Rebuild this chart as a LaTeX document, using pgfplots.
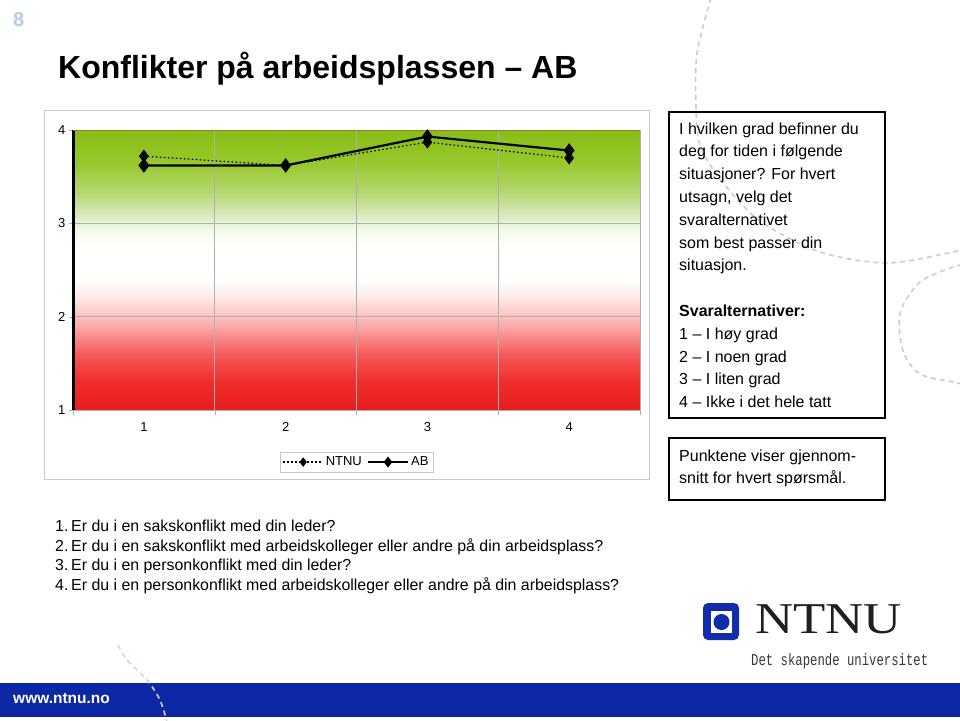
\documentclass[border=0pt]{standalone}
\usepackage{pgfplots}
\pgfplotsset{compat=1.18}
\usepackage{fontspec}
\setmainfont{Liberation Sans}
\newfontfamily\serifNT{Liberation Serif}
\newfontfamily\monoNT{Liberation Mono}

\definecolor{gridgray}{RGB}{175,175,175}
\definecolor{framegray}{RGB}{200,200,200}
\definecolor{dashgray}{RGB}{205,205,205}
\definecolor{ntnublue}{RGB}{18,45,170}
\definecolor{barblue}{RGB}{12,40,165}
\definecolor{pagenum}{RGB}{180,205,228}
\definecolor{topline}{RGB}{150,125,45}
\definecolor{cR0}{RGB}{232,28,28}
\definecolor{cR1}{RGB}{240,45,45}
\definecolor{cR2}{RGB}{245,90,90}
\definecolor{cR3}{RGB}{250,170,170}
\definecolor{cR4}{RGB}{255,232,232}
\definecolor{cW1}{RGB}{245,250,238}
\definecolor{cG1}{RGB}{215,233,185}
\definecolor{cG2}{RGB}{180,215,110}
\definecolor{cG3}{RGB}{152,200,45}
\definecolor{cG4}{RGB}{135,190,20}

% background of the plot: red (1) -> white (2.5) -> green (4)
\pgfdeclareverticalshading{chartbg}{100bp}{
  color(0bp)=(cR0); color(25bp)=(cR0); color(30bp)=(cR1); color(35bp)=(cR2);
  color(40bp)=(cR3); color(45bp)=(cR4); color(48.5bp)=(white); color(54bp)=(white);
  color(57bp)=(cW1); color(60bp)=(cG1); color(64bp)=(cG2); color(69bp)=(cG3);
  color(75bp)=(cG4); color(100bp)=(cG4)}

\begin{document}
\begin{tikzpicture}[x=1pt,y=-1pt]
\useasboundingbox (0,0) rectangle (960,720);
\fill[white] (0,0) rectangle (960,720);

% dashed decoration
\begin{scope}
\clip (0,0) rectangle (960,720);
\draw[dashgray, line width=1.6pt, dash pattern=on 5pt off 4pt]
  plot[smooth] coordinates {(711,-2) (697,53) (696,107) (700,145) (720,179) (760,221) (820,252) (887,263) (953,252) (962,249)};
\draw[dashgray, line width=1.6pt, dash pattern=on 5pt off 4pt]
  plot[smooth] coordinates {(962,265) (953,267) (920,282) (900,313) (903,351) (920,374) (953,382) (962,384)};
\end{scope}

% page number and title
\node[anchor=base west, inner sep=0, text=pagenum] at (13,27) {\fontsize{20}{20}\selectfont\bfseries 8};
\node[anchor=base west, inner sep=0] at (58,78) {\fontsize{32}{34}\selectfont\bfseries Konflikter på arbeidsplassen – AB};

% chart frame
\draw[framegray, line width=1pt] (44,110) rectangle (649,479);

\begin{axis}[
  at={(73pt,-410pt)}, anchor=south west,
  scale only axis, width=567pt, height=280pt,
  xmin=0.5, xmax=4.5, ymin=1, ymax=4,
  xtick={1,2,3,4}, minor xtick={0.5,1.5,2.5,3.5,4.5},
  ytick={1,2,3,4},
  xminorgrids, ymajorgrids,
  grid style={draw=gridgray, line width=0.6pt},
  axis x line*=bottom, axis y line*=left,
  x axis line style={draw=gridgray, line width=0.8pt},
  y axis line style={draw=black, line width=3pt},
  tick align=outside,
  major x tick style={draw=none},
  minor x tick style={draw=gridgray},
  y tick style={draw=gridgray},
  minor tick length=5pt, major tick length=4pt,
  tick label style={font=\fontsize{13}{15}\selectfont},
  /pgf/number format/assume math mode=true,
  xticklabel style={yshift=-5pt},
  axis background/.style={shade, shading=chartbg},
  legend style={at={(0.5,-0.186)}, anchor=center, legend columns=2,
    draw=framegray, fill=white, inner sep=2.5pt,
    font=\fontsize{13}{15}\selectfont,
    /tikz/every even column/.append style={column sep=3pt}},
  legend image code/.code={\draw[mark repeat=2, mark phase=2, mark size=3.8pt]
    plot coordinates {(0pt,0pt) (20pt,0pt) (40pt,0pt)};},
]
\draw[topline, line width=2pt] (axis cs:0.5,4) -- (axis cs:4.5,4);
% NTNU
\addplot[black, line width=1.2pt, dash pattern=on 1.5pt off 2.5pt,
  mark=diamond*, mark size=5.5pt, mark options={solid}]
  coordinates {(1,3.72) (2,3.62) (3,3.87) (4,3.70)};
% AB
\addplot[black, line width=2.2pt, mark=diamond*, mark size=5.5pt, mark options={solid}]
  coordinates {(1,3.62) (2,3.62) (3,3.93) (4,3.78)};
\legend{NTNU, AB}
\end{axis}

% text boxes on the right
\draw[black, line width=1.3pt] (669,112) rectangle (885,418);
\draw[black, line width=1.3pt] (669,438) rectangle (885,500);
\begin{scope}[every node/.style={anchor=base west, inner sep=0, font=\fontsize{16}{18}\selectfont}]
\node at (679,134.0) {I hvilken grad befinner du};
\node at (679,156.8) {deg for tiden i følgende};
\node at (679,179.6) {situasjoner? For hvert};
\node at (679,202.4) {utsagn, velg det};
\node at (679,225.2) {svaralternativet};
\node at (679,248.0) {som best passer din};
\node at (679,270.8) {situasjon.};
\node at (679,316.4) {\bfseries Svaralternativer:};
\node at (679,339.2) {1 – I høy grad};
\node at (679,362.0) {2 – I noen grad};
\node at (679,384.8) {3 – I liten grad};
\node at (679,407.6) {4 – Ikke i det hele tatt};
\node at (679,461.0) {Punktene viser gjennom-};
\node at (679,483.8) {snitt for hvert spørsmål.};
\end{scope}
% questions
\begin{scope}[every node/.style={anchor=base west, inner sep=0, font=\fontsize{15.9}{18}\selectfont}]
\node at (55,531) {1.};
\node at (71,531) {Er du i en sakskonflikt med din leder?};
\node at (55,551) {2.};
\node at (71,551) {Er du i en sakskonflikt med arbeidskolleger eller andre på din arbeidsplass?};
\node at (55,570.5) {3.};
\node at (71,570.5) {Er du i en personkonflikt med din leder?};
\node at (55,590) {4.};
\node at (71,590) {Er du i en personkonflikt med arbeidskolleger eller andre på din arbeidsplass?};
\end{scope}

% NTNU logo
\fill[ntnublue, rounded corners=5pt] (703,603) rectangle (739,640);
\fill[white] (711,611) rectangle (732,633);
\fill[ntnublue] (721.5,622) circle[radius=8pt];
\node[anchor=base west, inner sep=0, text={rgb,255:red,35;green,30;blue,30}] at (755,633)
  {\scalebox{1.2}[1]{\fontsize{44}{44}\serifNT NTNU}};
\node[anchor=base west, inner sep=0, text={rgb,255:red,55;green,55;blue,55}] at (751,665)
  {\resizebox{177pt}{12pt}{\monoNT Det skapende universitet}};

% bottom bar
\fill[barblue] (0,683) rectangle (960,717);
\node[anchor=base west, inner sep=0, text=white] at (13,703) {\fontsize{15.5}{16}\selectfont\bfseries www.ntnu.no};
\begin{scope}
\clip (0,0) rectangle (960,720);
\draw[white!80!barblue, line width=1.6pt, dash pattern=on 5pt off 4pt]
  plot[smooth] coordinates {(118,645) (127,660) (147,680) (160,700) (167,722)};
\end{scope}
\end{tikzpicture}
\end{document}
